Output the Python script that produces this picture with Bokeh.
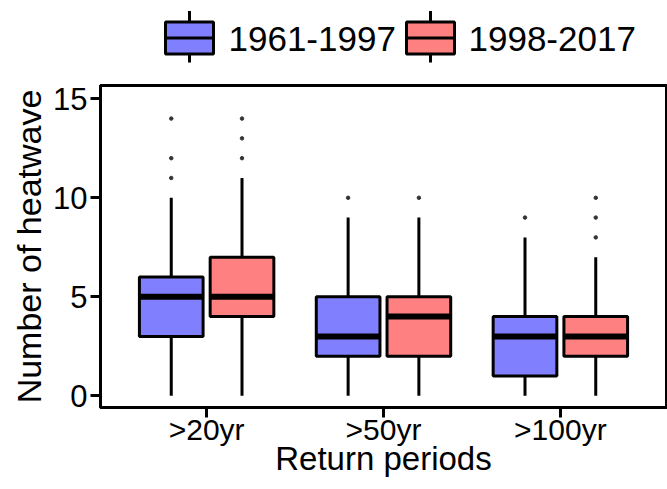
from bokeh.plotting import figure
from bokeh.layouts import column
from bokeh.models import Range1d, FixedTicker, ColumnDataSource
from bokeh.core.properties import value
from bokeh.embed import file_html
from bokeh.resources import INLINE

# ---------------- data ----------------
categories = [">20yr", ">50yr", ">100yr"]
series_names = ["1961-1997", "1998-2017"]
series_colors = ["#8080ff", "#ff8080"]

lower_1 = [0, 0, 0]
q1_1 = [3, 2, 1]
median_1 = [5, 3, 3]
q3_1 = [6, 5, 4]
upper_1 = [10, 9, 8]
outliers_1 = [[11, 12, 14], [10], [9]]

lower_2 = [0, 0, 0]
q1_2 = [4, 2, 2]
median_2 = [5, 4, 3]
q3_2 = [7, 5, 4]
upper_2 = [11, 9, 7]
outliers_2 = [[12, 13, 14], [10], [8, 9, 10]]

y_ticks = [0, 5, 10, 15]

FONT = "Liberation Sans"
DODGE = 0.2
BOX_W = 0.36

LEG_H = 68
TOP_PAD = 85 - LEG_H

# ---------------- main figure ----------------
p = figure(width=667, height=489 - LEG_H, output_backend="svg", toolbar_location=None,
           x_range=Range1d(0.4, 3.6), y_range=Range1d(-0.59, 15.67),
           min_border_left=100, min_border_right=1, min_border_top=TOP_PAD, min_border_bottom=82)
p.grid.visible = False
p.outline_line_color = "black"
p.outline_line_width = 3
p.background_fill_color = "white"
p.border_fill_color = "white"

series = [
    (lower_1, q1_1, median_1, q3_1, upper_1, outliers_1, -DODGE, series_colors[0]),
    (lower_2, q1_2, median_2, q3_2, upper_2, outliers_2, DODGE, series_colors[1]),
]
for lo, a, m, b, up, outs, off, col in series:
    xs = [i + 1 + off for i in range(len(categories))]
    src = ColumnDataSource(dict(x=xs, lo=lo, q1=a, med=m, q3=b, up=up,
                                x0=[x - BOX_W / 2 for x in xs], x1=[x + BOX_W / 2 for x in xs]))
    p.segment(x0="x", y0="lo", x1="x", y1="q1", source=src, line_color="black", line_width=3)
    p.segment(x0="x", y0="q3", x1="x", y1="up", source=src, line_color="black", line_width=3)
    p.vbar(x="x", bottom="q1", top="q3", width=BOX_W, source=src,
           fill_color=col, line_color="black", line_width=3)
    p.segment(x0="x0", y0="med", x1="x1", y1="med", source=src, line_color="black",
              line_width=6, line_cap="butt")
    ox, oy = [], []
    for x, o in zip(xs, outs):
        for v in o:
            ox.append(x)
            oy.append(v)
    p.scatter(ox, oy, size=3.5, fill_color="#333333", line_color="#333333")

# axes
p.xaxis.ticker = FixedTicker(ticks=[1, 2, 3])
p.xaxis.major_label_overrides = {i + 1: c for i, c in enumerate(categories)}
p.yaxis.ticker = FixedTicker(ticks=y_ticks)
for ax in (p.xaxis[0], p.yaxis[0]):
    ax.axis_line_color = "black"
    ax.axis_line_width = 3
    ax.major_tick_line_width = 3
    ax.major_tick_line_color = "black"
    ax.major_tick_out = 10
    ax.major_tick_in = 0
    ax.minor_tick_line_color = None
    ax.major_label_text_font = FONT
    ax.major_label_text_color = "black"
    ax.axis_label_text_font = FONT
    ax.axis_label_text_font_style = "normal"
    ax.axis_label_text_color = "black"
p.xaxis.major_label_text_font_size = "30px"
p.yaxis.major_label_text_font_size = "31px"
p.xaxis.axis_label_text_font_size = "33px"
p.yaxis.axis_label_text_font_size = "34px"
p.xaxis.axis_label = "Return periods"
p.yaxis.axis_label = "Number of heatwave"
p.xaxis.major_label_standoff = -5
p.xaxis.axis_label_standoff = -9
p.yaxis.major_label_standoff = 3
p.yaxis.axis_label_standoff = 2

# ---------------- legend figure (frame is aligned with the main frame: x 100..666) ----------------
lg = figure(width=667, height=LEG_H, output_backend="svg", toolbar_location=None,
            x_range=Range1d(100, 666), y_range=Range1d(LEG_H, 0),
            x_axis_location=None, y_axis_location=None,
            min_border_left=100, min_border_right=1, min_border_top=0, min_border_bottom=0,
            outline_line_color=None)
lg.grid.visible = False
key_x = [189, 430]
text_x = [228, 468]
for kx, tx, col, name in zip(key_x, text_x, series_colors, series_names):
    lg.segment(x0=[kx, kx], y0=[10.5, 53.5], x1=[kx, kx], y1=[21.5, 62],
               line_color="black", line_width=3)
    lg.rect(x=[kx], y=[37.5], width=48, height=32, fill_color=col,
            line_color="black", line_width=3)
    lg.segment(x0=[kx - 24], y0=[37.5], x1=[kx + 24], y1=[37.5], line_color="black", line_width=3)
    lg.text(x=[tx], y=[38], text=[name], text_font=value(FONT), text_font_size="35px",
            text_baseline="middle", text_align="left", text_color="black")

layout = column(lg, p, spacing=0)
open("out.html", "w").write(file_html(layout, INLINE))
